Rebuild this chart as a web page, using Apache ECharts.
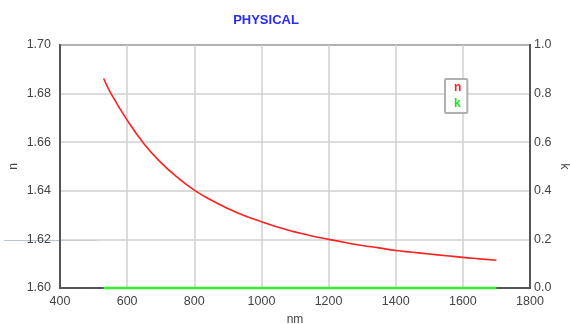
<!DOCTYPE html>
<html>
<head>
<meta charset="utf-8">
<script src="https://cdn.jsdelivr.net/npm/echarts@6/dist/echarts.min.js"></script>
<style>
html,body{margin:0;padding:0;background:#fff;}
#c{width:570px;height:324px;}
</style>
</head>
<body>
<div id="c"></div>
<script>
// wavelength (nm)
var wavelengths = [530, 550, 600, 650, 700, 750, 800, 850, 900, 950, 1000, 1050, 1100, 1150, 1200, 1250, 1300, 1350, 1400, 1450, 1500, 1550, 1600, 1650, 1700];
// refractive index n
var nValues = [1.6862, 1.6805, 1.6691, 1.6594, 1.6517, 1.6455, 1.6403, 1.6362, 1.6327, 1.6297, 1.6273, 1.6250, 1.6231, 1.6214, 1.6200, 1.6187, 1.6175, 1.6165, 1.6154, 1.6147, 1.6140, 1.6133, 1.6126, 1.6120, 1.6114];
// extinction coefficient k
var kValues = [0, 0, 0, 0, 0, 0, 0, 0, 0, 0, 0, 0, 0, 0, 0, 0, 0, 0, 0, 0, 0, 0, 0, 0, 0];
var xTicks = [400, 600, 800, 1000, 1200, 1400, 1600, 1800];
var nTicks = [1.60, 1.62, 1.64, 1.66, 1.68, 1.70];
var kTicks = [0.0, 0.2, 0.4, 0.6, 0.8, 1.0];

var nData = wavelengths.map(function (w, i) { return [w, nValues[i]]; });
var kData = wavelengths.map(function (w, i) { return [w, kValues[i]]; });

var font = '"Liberation Sans", Arial, sans-serif';
var labelColor = '#444';
var chart = echarts.init(document.getElementById('c'), null, {renderer: 'canvas'});
chart.setOption({
  animation: false,
  backgroundColor: '#fff',
  title: {
    text: 'PHYSICAL',
    left: 261, top: 9, textAlign: 'center',
    textStyle: {color: '#2a2aff', fontSize: 13, fontWeight: 'bold', fontFamily: font}
  },
  legend: {
    orient: 'vertical',
    left: 445, top: 79,
    icon: 'none', itemWidth: 0, itemHeight: 10, itemGap: 4,
    padding: [3, 6, 3, 4],
    borderColor: '#b0b0b0', borderWidth: 2, borderRadius: 1,
    backgroundColor: '#fff',
    selectedMode: false,
    data: [
      {name: 'n', textStyle: {color: '#ff2020'}},
      {name: 'k', textStyle: {color: '#22dd22'}}
    ],
    textStyle: {fontSize: 12, fontFamily: font, fontWeight: 'bold', padding: [0, 0, 0, 0]}
  },
  grid: {left: 60, right: 40, top: 45, bottom: 36, containLabel: false, outerBoundsMode: 'none',
    show: true, borderColor: '#555', borderWidth: 2, backgroundColor: 'transparent'},
  graphic: [{
    type: 'line', z: 0, silent: true,
    shape: {x1: 4, y1: 240.5, x2: 97, y2: 240.5},
    style: {stroke: '#b9c4d3', lineWidth: 1}
  }],
  xAxis: {
    type: 'value', min: xTicks[0], max: xTicks[xTicks.length - 1], interval: xTicks[1] - xTicks[0],
    name: 'nm', nameLocation: 'middle', nameGap: 26, nameMoveOverlap: false,
    nameTextStyle: {color: labelColor, fontSize: 12, fontFamily: font},
    axisLine: {show: true, lineStyle: {color: '#555', width: 2}},
    axisTick: {show: false},
    axisLabel: {color: labelColor, fontSize: 12.5, fontFamily: font, margin: 7,
      formatter: function (v) { return String(v); }},
    splitLine: {show: true, lineStyle: {color: '#d0d0d0', width: 1.5}}
  },
  yAxis: [{
    type: 'value', min: nTicks[0], max: nTicks[nTicks.length - 1], interval: 0.02,
    name: 'n', nameLocation: 'middle', nameGap: 40, nameRotate: 90, nameMoveOverlap: false,
    nameTextStyle: {color: labelColor, fontSize: 12, fontFamily: font},
    axisLine: {show: true, lineStyle: {color: '#555', width: 2}},
    axisTick: {show: false},
    axisLabel: {color: labelColor, fontSize: 12.5, fontFamily: font, margin: 9,
      formatter: function (v) { return v.toFixed(2); }},
    splitLine: {show: true, lineStyle: {color: '#d0d0d0', width: 1.5}}
  }, {
    type: 'value', min: kTicks[0], max: kTicks[kTicks.length - 1], interval: 0.2,
    position: 'right',
    name: 'k', nameLocation: 'middle', nameGap: 28, nameRotate: -90, nameMoveOverlap: false,
    nameTextStyle: {color: labelColor, fontSize: 12, fontFamily: font},
    axisLine: {show: true, lineStyle: {color: '#555', width: 2}},
    axisTick: {show: false},
    axisLabel: {color: labelColor, fontSize: 12.5, fontFamily: font, margin: 4,
      formatter: function (v) { return v.toFixed(1); }},
    splitLine: {show: false}
  }],
  series: [{
    name: 'n', type: 'line', yAxisIndex: 0, data: nData,
    showSymbol: false, smooth: true, clip: false,
    lineStyle: {color: '#ff2020', width: 1.6},
    itemStyle: {color: '#ff2020'}
  }, {
    name: 'k', type: 'line', yAxisIndex: 1, data: kData,
    showSymbol: false, clip: false, z: 5,
    lineStyle: {color: '#33ee33', width: 2.5},
    itemStyle: {color: '#33ee33'}
  }]
});
</script>
</body>
</html>
